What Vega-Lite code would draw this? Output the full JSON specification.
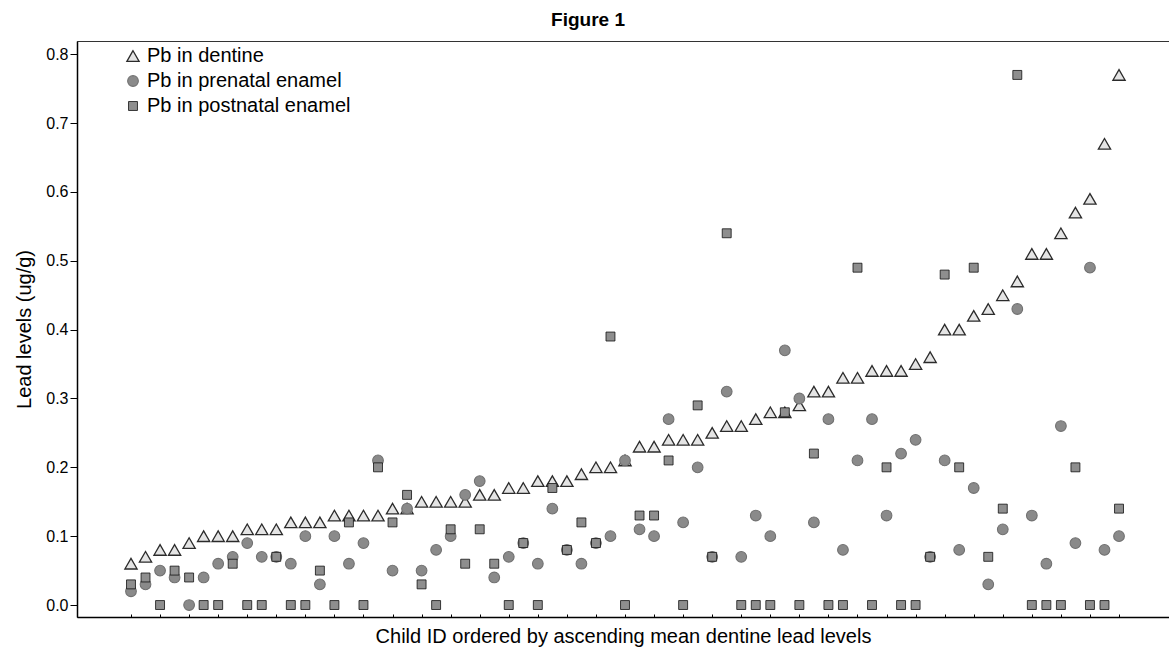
{
  "$schema": "https://vega.github.io/schema/vega-lite/v6.json",
  "width": 1092,
  "height": 576,
  "autosize": {"type": "none"},
  "padding": {"left": 77, "top": 41, "right": 0, "bottom": 40},
  "background": "white",
  "title": {"text": "Figure 1", "fontSize": 19, "fontWeight": "bold", "font": "Liberation Sans", "color": "#000", "anchor": "middle", "offset": 13, "baseline": "alphabetic", "dy": 17, "dx": -35},
  "config": {
    "font": "Liberation Sans",
    "view": {"stroke": "#333", "strokeWidth": 1},
    "axis": {"grid": false, "domainColor": "#000", "tickColor": "#000", "labelColor": "#000", "titleColor": "#000", "labelFont": "Liberation Sans", "titleFont": "Liberation Sans", "titleFontWeight": "normal"}
  },
  "data": {"values": [
    {"child":1,"series":"Pb in dentine","lead":0.06},{"child":2,"series":"Pb in dentine","lead":0.07},{"child":3,"series":"Pb in dentine","lead":0.08},{"child":4,"series":"Pb in dentine","lead":0.08},{"child":5,"series":"Pb in dentine","lead":0.09},{"child":6,"series":"Pb in dentine","lead":0.10},{"child":7,"series":"Pb in dentine","lead":0.10},{"child":8,"series":"Pb in dentine","lead":0.10},{"child":9,"series":"Pb in dentine","lead":0.11},{"child":10,"series":"Pb in dentine","lead":0.11},
    {"child":11,"series":"Pb in dentine","lead":0.11},{"child":12,"series":"Pb in dentine","lead":0.12},{"child":13,"series":"Pb in dentine","lead":0.12},{"child":14,"series":"Pb in dentine","lead":0.12},{"child":15,"series":"Pb in dentine","lead":0.13},{"child":16,"series":"Pb in dentine","lead":0.13},{"child":17,"series":"Pb in dentine","lead":0.13},{"child":18,"series":"Pb in dentine","lead":0.13},{"child":19,"series":"Pb in dentine","lead":0.14},{"child":20,"series":"Pb in dentine","lead":0.14},
    {"child":21,"series":"Pb in dentine","lead":0.15},{"child":22,"series":"Pb in dentine","lead":0.15},{"child":23,"series":"Pb in dentine","lead":0.15},{"child":24,"series":"Pb in dentine","lead":0.15},{"child":25,"series":"Pb in dentine","lead":0.16},{"child":26,"series":"Pb in dentine","lead":0.16},{"child":27,"series":"Pb in dentine","lead":0.17},{"child":28,"series":"Pb in dentine","lead":0.17},{"child":29,"series":"Pb in dentine","lead":0.18},{"child":30,"series":"Pb in dentine","lead":0.18},
    {"child":31,"series":"Pb in dentine","lead":0.18},{"child":32,"series":"Pb in dentine","lead":0.19},{"child":33,"series":"Pb in dentine","lead":0.20},{"child":34,"series":"Pb in dentine","lead":0.20},{"child":35,"series":"Pb in dentine","lead":0.21},{"child":36,"series":"Pb in dentine","lead":0.23},{"child":37,"series":"Pb in dentine","lead":0.23},{"child":38,"series":"Pb in dentine","lead":0.24},{"child":39,"series":"Pb in dentine","lead":0.24},{"child":40,"series":"Pb in dentine","lead":0.24},
    {"child":41,"series":"Pb in dentine","lead":0.25},{"child":42,"series":"Pb in dentine","lead":0.26},{"child":43,"series":"Pb in dentine","lead":0.26},{"child":44,"series":"Pb in dentine","lead":0.27},{"child":45,"series":"Pb in dentine","lead":0.28},{"child":46,"series":"Pb in dentine","lead":0.28},{"child":47,"series":"Pb in dentine","lead":0.29},{"child":48,"series":"Pb in dentine","lead":0.31},{"child":49,"series":"Pb in dentine","lead":0.31},{"child":50,"series":"Pb in dentine","lead":0.33},
    {"child":51,"series":"Pb in dentine","lead":0.33},{"child":52,"series":"Pb in dentine","lead":0.34},{"child":53,"series":"Pb in dentine","lead":0.34},{"child":54,"series":"Pb in dentine","lead":0.34},{"child":55,"series":"Pb in dentine","lead":0.35},{"child":56,"series":"Pb in dentine","lead":0.36},{"child":57,"series":"Pb in dentine","lead":0.40},{"child":58,"series":"Pb in dentine","lead":0.40},{"child":59,"series":"Pb in dentine","lead":0.42},{"child":60,"series":"Pb in dentine","lead":0.43},
    {"child":61,"series":"Pb in dentine","lead":0.45},{"child":62,"series":"Pb in dentine","lead":0.47},{"child":63,"series":"Pb in dentine","lead":0.51},{"child":64,"series":"Pb in dentine","lead":0.51},{"child":65,"series":"Pb in dentine","lead":0.54},{"child":66,"series":"Pb in dentine","lead":0.57},{"child":67,"series":"Pb in dentine","lead":0.59},{"child":68,"series":"Pb in dentine","lead":0.67},{"child":69,"series":"Pb in dentine","lead":0.77},

    {"child":1,"series":"Pb in prenatal enamel","lead":0.02},{"child":2,"series":"Pb in prenatal enamel","lead":0.03},{"child":3,"series":"Pb in prenatal enamel","lead":0.05},{"child":4,"series":"Pb in prenatal enamel","lead":0.04},{"child":5,"series":"Pb in prenatal enamel","lead":0.00},{"child":6,"series":"Pb in prenatal enamel","lead":0.04},{"child":7,"series":"Pb in prenatal enamel","lead":0.06},{"child":8,"series":"Pb in prenatal enamel","lead":0.07},{"child":9,"series":"Pb in prenatal enamel","lead":0.09},{"child":10,"series":"Pb in prenatal enamel","lead":0.07},
    {"child":11,"series":"Pb in prenatal enamel","lead":0.07},{"child":12,"series":"Pb in prenatal enamel","lead":0.06},{"child":13,"series":"Pb in prenatal enamel","lead":0.10},{"child":14,"series":"Pb in prenatal enamel","lead":0.03},{"child":15,"series":"Pb in prenatal enamel","lead":0.10},{"child":16,"series":"Pb in prenatal enamel","lead":0.06},{"child":17,"series":"Pb in prenatal enamel","lead":0.09},{"child":18,"series":"Pb in prenatal enamel","lead":0.21},{"child":19,"series":"Pb in prenatal enamel","lead":0.05},{"child":20,"series":"Pb in prenatal enamel","lead":0.14},
    {"child":21,"series":"Pb in prenatal enamel","lead":0.05},{"child":22,"series":"Pb in prenatal enamel","lead":0.08},{"child":23,"series":"Pb in prenatal enamel","lead":0.10},{"child":24,"series":"Pb in prenatal enamel","lead":0.16},{"child":25,"series":"Pb in prenatal enamel","lead":0.18},{"child":26,"series":"Pb in prenatal enamel","lead":0.04},{"child":27,"series":"Pb in prenatal enamel","lead":0.07},{"child":28,"series":"Pb in prenatal enamel","lead":0.09},{"child":29,"series":"Pb in prenatal enamel","lead":0.06},{"child":30,"series":"Pb in prenatal enamel","lead":0.14},
    {"child":31,"series":"Pb in prenatal enamel","lead":0.08},{"child":32,"series":"Pb in prenatal enamel","lead":0.06},{"child":33,"series":"Pb in prenatal enamel","lead":0.09},{"child":34,"series":"Pb in prenatal enamel","lead":0.10},{"child":35,"series":"Pb in prenatal enamel","lead":0.21},{"child":36,"series":"Pb in prenatal enamel","lead":0.11},{"child":37,"series":"Pb in prenatal enamel","lead":0.10},{"child":38,"series":"Pb in prenatal enamel","lead":0.27},{"child":39,"series":"Pb in prenatal enamel","lead":0.12},{"child":40,"series":"Pb in prenatal enamel","lead":0.20},
    {"child":41,"series":"Pb in prenatal enamel","lead":0.07},{"child":42,"series":"Pb in prenatal enamel","lead":0.31},{"child":43,"series":"Pb in prenatal enamel","lead":0.07},{"child":44,"series":"Pb in prenatal enamel","lead":0.13},{"child":45,"series":"Pb in prenatal enamel","lead":0.10},{"child":46,"series":"Pb in prenatal enamel","lead":0.37},{"child":47,"series":"Pb in prenatal enamel","lead":0.30},{"child":48,"series":"Pb in prenatal enamel","lead":0.12},{"child":49,"series":"Pb in prenatal enamel","lead":0.27},{"child":50,"series":"Pb in prenatal enamel","lead":0.08},
    {"child":51,"series":"Pb in prenatal enamel","lead":0.21},{"child":52,"series":"Pb in prenatal enamel","lead":0.27},{"child":53,"series":"Pb in prenatal enamel","lead":0.13},{"child":54,"series":"Pb in prenatal enamel","lead":0.22},{"child":55,"series":"Pb in prenatal enamel","lead":0.24},{"child":56,"series":"Pb in prenatal enamel","lead":0.07},{"child":57,"series":"Pb in prenatal enamel","lead":0.21},{"child":58,"series":"Pb in prenatal enamel","lead":0.08},{"child":59,"series":"Pb in prenatal enamel","lead":0.17},{"child":60,"series":"Pb in prenatal enamel","lead":0.03},
    {"child":61,"series":"Pb in prenatal enamel","lead":0.11},{"child":62,"series":"Pb in prenatal enamel","lead":0.43},{"child":63,"series":"Pb in prenatal enamel","lead":0.13},{"child":64,"series":"Pb in prenatal enamel","lead":0.06},{"child":65,"series":"Pb in prenatal enamel","lead":0.26},{"child":66,"series":"Pb in prenatal enamel","lead":0.09},{"child":67,"series":"Pb in prenatal enamel","lead":0.49},{"child":68,"series":"Pb in prenatal enamel","lead":0.08},{"child":69,"series":"Pb in prenatal enamel","lead":0.10},

    {"child":1,"series":"Pb in postnatal enamel","lead":0.03},{"child":2,"series":"Pb in postnatal enamel","lead":0.04},{"child":3,"series":"Pb in postnatal enamel","lead":0.00},{"child":4,"series":"Pb in postnatal enamel","lead":0.05},{"child":5,"series":"Pb in postnatal enamel","lead":0.04},{"child":6,"series":"Pb in postnatal enamel","lead":0.00},{"child":7,"series":"Pb in postnatal enamel","lead":0.00},{"child":8,"series":"Pb in postnatal enamel","lead":0.06},{"child":9,"series":"Pb in postnatal enamel","lead":0.00},{"child":10,"series":"Pb in postnatal enamel","lead":0.00},
    {"child":11,"series":"Pb in postnatal enamel","lead":0.07},{"child":12,"series":"Pb in postnatal enamel","lead":0.00},{"child":13,"series":"Pb in postnatal enamel","lead":0.00},{"child":14,"series":"Pb in postnatal enamel","lead":0.05},{"child":15,"series":"Pb in postnatal enamel","lead":0.00},{"child":16,"series":"Pb in postnatal enamel","lead":0.12},{"child":17,"series":"Pb in postnatal enamel","lead":0.00},{"child":18,"series":"Pb in postnatal enamel","lead":0.20},{"child":19,"series":"Pb in postnatal enamel","lead":0.12},{"child":20,"series":"Pb in postnatal enamel","lead":0.16},
    {"child":21,"series":"Pb in postnatal enamel","lead":0.03},{"child":22,"series":"Pb in postnatal enamel","lead":0.00},{"child":23,"series":"Pb in postnatal enamel","lead":0.11},{"child":24,"series":"Pb in postnatal enamel","lead":0.06},{"child":25,"series":"Pb in postnatal enamel","lead":0.11},{"child":26,"series":"Pb in postnatal enamel","lead":0.06},{"child":27,"series":"Pb in postnatal enamel","lead":0.00},{"child":28,"series":"Pb in postnatal enamel","lead":0.09},{"child":29,"series":"Pb in postnatal enamel","lead":0.00},{"child":30,"series":"Pb in postnatal enamel","lead":0.17},
    {"child":31,"series":"Pb in postnatal enamel","lead":0.08},{"child":32,"series":"Pb in postnatal enamel","lead":0.12},{"child":33,"series":"Pb in postnatal enamel","lead":0.09},{"child":34,"series":"Pb in postnatal enamel","lead":0.39},{"child":35,"series":"Pb in postnatal enamel","lead":0.00},{"child":36,"series":"Pb in postnatal enamel","lead":0.13},{"child":37,"series":"Pb in postnatal enamel","lead":0.13},{"child":38,"series":"Pb in postnatal enamel","lead":0.21},{"child":39,"series":"Pb in postnatal enamel","lead":0.00},{"child":40,"series":"Pb in postnatal enamel","lead":0.29},
    {"child":41,"series":"Pb in postnatal enamel","lead":0.07},{"child":42,"series":"Pb in postnatal enamel","lead":0.54},{"child":43,"series":"Pb in postnatal enamel","lead":0.00},{"child":44,"series":"Pb in postnatal enamel","lead":0.00},{"child":45,"series":"Pb in postnatal enamel","lead":0.00},{"child":46,"series":"Pb in postnatal enamel","lead":0.28},{"child":47,"series":"Pb in postnatal enamel","lead":0.00},{"child":48,"series":"Pb in postnatal enamel","lead":0.22},{"child":49,"series":"Pb in postnatal enamel","lead":0.00},{"child":50,"series":"Pb in postnatal enamel","lead":0.00},
    {"child":51,"series":"Pb in postnatal enamel","lead":0.49},{"child":52,"series":"Pb in postnatal enamel","lead":0.00},{"child":53,"series":"Pb in postnatal enamel","lead":0.20},{"child":54,"series":"Pb in postnatal enamel","lead":0.00},{"child":55,"series":"Pb in postnatal enamel","lead":0.00},{"child":56,"series":"Pb in postnatal enamel","lead":0.07},{"child":57,"series":"Pb in postnatal enamel","lead":0.48},{"child":58,"series":"Pb in postnatal enamel","lead":0.20},{"child":59,"series":"Pb in postnatal enamel","lead":0.49},{"child":60,"series":"Pb in postnatal enamel","lead":0.07},
    {"child":61,"series":"Pb in postnatal enamel","lead":0.14},{"child":62,"series":"Pb in postnatal enamel","lead":0.77},{"child":63,"series":"Pb in postnatal enamel","lead":0.00},{"child":64,"series":"Pb in postnatal enamel","lead":0.00},{"child":65,"series":"Pb in postnatal enamel","lead":0.00},{"child":66,"series":"Pb in postnatal enamel","lead":0.20},{"child":67,"series":"Pb in postnatal enamel","lead":0.00},{"child":68,"series":"Pb in postnatal enamel","lead":0.00},{"child":69,"series":"Pb in postnatal enamel","lead":0.14}
  ]},
  "mark": {"type": "point", "opacity": 1, "fillOpacity": 1, "strokeOpacity": 1},
  "encoding": {
    "x": {
      "field": "child", "type": "quantitative",
      "scale": {"domain": [-2.716, 72.44], "nice": false, "zero": false},
      "axis": {"title": "Child ID ordered by ascending mean dentine lead levels", "titleFontSize": 20, "labels": false, "values": [1,3,5,7,9,11,13,15,17,19,21,23,25,27,29,31,33,35,37,39,41,43,45,47,49,51,53,55,57,59,61,63,65,67,69], "tickSize": -3, "titlePadding": 9, "domainWidth": 1.5}
    },
    "y": {
      "field": "lead", "type": "quantitative",
      "scale": {"domain": [-0.0174, 0.8193], "nice": false, "zero": false},
      "axis": {"title": "Lead levels (ug/g)", "titleFontSize": 20, "labelFontSize": 16, "values": [0, 0.1, 0.2, 0.3, 0.4, 0.5, 0.6, 0.7, 0.8], "format": ".1f", "tickSize": 7, "labelPadding": 2, "titlePadding": 11, "domainWidth": 1.5}
    },
    "shape": {
      "field": "series", "type": "nominal",
      "scale": {"domain": ["Pb in dentine", "Pb in prenatal enamel", "Pb in postnatal enamel"], "range": ["triangle-up", "circle", "square"]},
      "legend": {"title": null, "orient": "none", "legendX": 46, "legendY": 5, "labelFontSize": 20, "labelFont": "Liberation Sans", "labelColor": "#000", "labelOffset": 4, "labelLimit": 500, "rowPadding": 5, "padding": 0}
    },
    "fill": {
      "field": "series", "type": "nominal",
      "scale": {"domain": ["Pb in dentine", "Pb in prenatal enamel", "Pb in postnatal enamel"], "range": ["#e4e4e4", "#8a8a8a", "#8e8e8e"]}
    },
    "stroke": {
      "field": "series", "type": "nominal",
      "scale": {"domain": ["Pb in dentine", "Pb in prenatal enamel", "Pb in postnatal enamel"], "range": ["#2b2b2b", "#707070", "#111111"]}
    },
    "size": {
      "field": "series", "type": "ordinal",
      "scale": {"domain": ["Pb in dentine", "Pb in prenatal enamel", "Pb in postnatal enamel"], "range": [150, 80, 42]}
    },
    "strokeWidth": {
      "field": "series", "type": "ordinal",
      "scale": {"domain": ["Pb in dentine", "Pb in prenatal enamel", "Pb in postnatal enamel"], "range": [1.3, 0.8, 1.5]}
    }
  }
}
